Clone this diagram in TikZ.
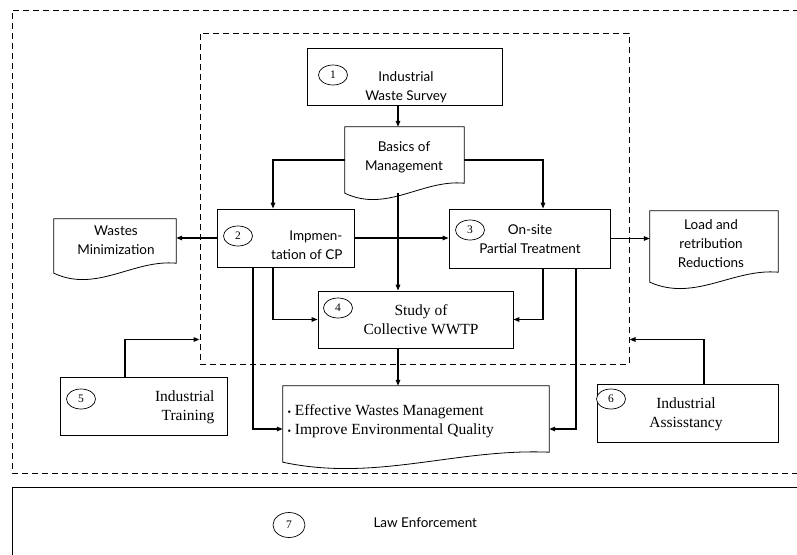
\documentclass[tikz,border=0pt]{standalone}
\usepackage{fontspec}
\setmainfont{Lato}
\newfontfamily\serifed{Liberation Serif}
\usetikzlibrary{shapes.geometric,calc,arrows.meta}

% wavy-bottom document outline round a named node
\newcommand{\docframe}[1]{%
  \draw[outline] (#1.north west) -- (#1.south west)
    .. controls ($(#1.south west)!0.35!(#1.south east)+(0pt,-20pt)$)
    and ($(#1.south west)!0.65!(#1.south east)+(0pt,14pt)$)
    .. ($(#1.south east)+(0pt,10pt)$) -- (#1.north east) -- cycle;}
\newcommand{\dotitem}{{\fontsize{10}{10}\selectfont •}\ }

\begin{document}
\begin{tikzpicture}[x=1pt,y=-1pt,
  outline/.style={line width=0.8pt},
  box/.style={draw,outline,rectangle,inner sep=0pt},
  doc/.style={rectangle,inner sep=0pt},
  num/.style={draw,ellipse,line width=0.7pt,minimum width=29pt,minimum height=20pt,inner sep=0pt,font=\serifed\fontsize{11.5}{11.5}\selectfont},
  txt/.style={align=center,font=\fontsize{13.5}{19}\selectfont},
  stxt/.style={align=center,font=\serifed\fontsize{15.5}{19}\selectfont},
  conn/.style={line width=1.3pt,-{Triangle[length=6pt,width=4.5pt]}},
  zone/.style={line width=1pt,dash pattern=on 6pt off 4pt}]

\useasboundingbox (0,0) rectangle (797,554);

% frames
\draw [zone] (799,10) -- (12,10) -- (12,473) -- (799,473);
\draw [outline] (12,556) -- (12,487) -- (799,487);
\node [draw,zone,rectangle,minimum width=429pt,minimum height=331pt] (core) at (414.5,198.5) {};

% boxes
\node [box,minimum width=195pt,minimum height=57pt] (survey) at (404.5,76.5) {};
\node [num] (n1) at (333,75) {1};
\node [txt] (t1) at (406,87.5) {Industrial\\Waste Survey};

\node [doc,minimum width=119pt,minimum height=66pt] (basics) at (404.5,160) {};
\docframe{basics}
\node [txt] (tb) at (404,157) {Basics of\\Management};

\node [box,minimum width=137pt,minimum height=58pt] (cp) at (285.5,238) {};
\node [num] (n2) at (238,236) {2};
\node [txt,anchor=east,align=right] (t2) at (346,245) {Impmen-\\tation of CP};

\node [box,minimum width=161pt,minimum height=59pt] (onsite) at (529.5,238.5) {};
\node [num] (n3) at (470,230) {3};
\node [txt] (t3) at (530,239) {On-site\\Partial Treatment};

\node [doc,minimum width=122pt,minimum height=54pt] (minim) at (115,246) {};
\docframe{minim}
\node [txt] (tm) at (116,240) {Wastes\\Minimization};

\node [doc,minimum width=128pt,minimum height=71pt] (load) at (714,246.5) {};
\docframe{load}
\node [txt] (tl) at (711,244) {Load and\\retribution\\Reductions};

\node [box,minimum width=195pt,minimum height=57pt] (wwtp) at (415.5,319.5) {};
\node [num] (n4) at (338,308) {4};
\node [stxt] (t4) at (421,320) {Study of\\Collective WWTP};

\node [doc,minimum width=266pt,minimum height=76pt] (result) at (416,424) {};
\docframe{result}
\node [stxt,anchor=west,align=left] (tr) at (284,421.5) {\dotitem Effective Wastes Management\\\dotitem Improve Environmental Quality};

\node [box,minimum width=167pt,minimum height=58pt] (training) at (143.5,406) {};
\node [num] (n5) at (81,399) {5};
\node [stxt,anchor=east,align=right] (t5) at (218,407) {Industrial\\Training};

\node [box,minimum width=181pt,minimum height=58pt] (assist) at (687.5,413) {};
\node [num,fill=white] (n6) at (611,399) {6};
\node [stxt] (t6) at (686,414) {Industrial\\Assisstancy};

\node [num,minimum width=32pt,minimum height=25pt] (n7) at (289,525) {7};
\node [txt,anchor=west] (t7) at (370,523) {Law Enforcement};

% connectors
\coordinate (spine) at (398,0);
\draw [conn] (survey.south -| spine) -- (basics.north -| spine);
\draw [conn] (basics.west) -| ([xshift=-12.5pt]cp.north);
\draw [conn] (basics.east) -| ([xshift=13.5pt]onsite.north);
\draw [conn] (basics.south -| spine) -- (wwtp.north -| spine);
\draw [conn] (cp.east) -- (cp.east -| onsite.west);
\draw [conn] (cp.west) -- (cp.west -| minim.east);
\draw [conn] (onsite.east) -- (onsite.east -| load.west);
\draw [conn] ([xshift=-12.5pt]cp.south) |- (wwtp.west);
\draw [conn] ([xshift=-32.5pt]cp.south) |- ([yshift=-5pt]result.west);
\draw [conn] ([xshift=13.5pt]onsite.south) |- (wwtp.east);
\draw [conn] ([xshift=46.5pt]onsite.south) |- ([yshift=-5pt]result.east);
\draw [conn] (wwtp.south -| spine) -- (result.north -| spine);
\draw [conn] ([xshift=-18.5pt]training.north) |- ([yshift=25pt]core.south west);
\draw [conn] ([xshift=16.5pt]assist.north) |- ([yshift=25pt]core.south east);

\end{tikzpicture}
\end{document}
